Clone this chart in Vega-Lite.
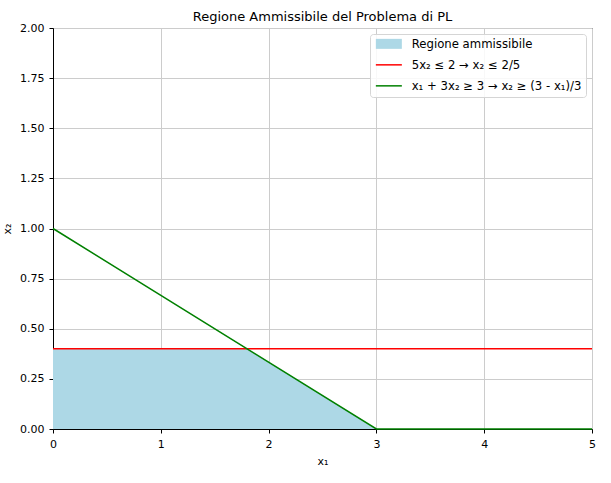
{
  "$schema": "https://vega.github.io/schema/vega-lite/v6.json",
  "width": 539,
  "height": 401,
  "autosize": {"type": "none"},
  "padding": {"left": 53, "top": 28, "right": 19, "bottom": 54},
  "background": "white",
  "title": {"text": "Regione Ammissibile del Problema di PL", "font": "DejaVu Sans", "fontSize": 13, "fontWeight": "normal", "color": "#000", "offset": -2},
  "config": {
    "view": {"stroke": "#000", "strokeWidth": 1},
    "axis": {
      "labelFont": "DejaVu Sans", "labelFontSize": 11, "labelColor": "#000",
      "titleFont": "DejaVu Sans", "titleFontSize": 11, "titleFontWeight": "normal", "titleColor": "#000",
      "domainColor": "#000", "tickColor": "#000", "tickSize": 4,
      "gridColor": "#cccccc", "gridWidth": 1, "zindex": 1
    },
    "legend": {
      "labelFont": "DejaVu Sans", "labelFontSize": 11.7, "labelColor": "#000",
      "labelLimit": 400
    }
  },
  "datasets": {
    "area": [
      {"x": 0, "y": 0.4, "serie": "Regione ammissibile"},
      {"x": 1.8, "y": 0.4, "serie": "Regione ammissibile"},
      {"x": 3, "y": 0, "serie": "Regione ammissibile"}
    ],
    "lines": [
      {"x": 0, "y": 0.4, "serie": "5x₂ ≤ 2 → x₂ ≤ 2/5"},
      {"x": 5, "y": 0.4, "serie": "5x₂ ≤ 2 → x₂ ≤ 2/5"},
      {"x": 0, "y": 1, "serie": "x₁ + 3x₂ ≥ 3 → x₂ ≥ (3 - x₁)/3"},
      {"x": 3, "y": 0, "serie": "x₁ + 3x₂ ≥ 3 → x₂ ≥ (3 - x₁)/3"},
      {"x": 5, "y": 0, "serie": "x₁ + 3x₂ ≥ 3 → x₂ ≥ (3 - x₁)/3"}
    ]
  },
  "encoding": {
    "x": {"field": "x", "type": "quantitative", "scale": {"domain": [0, 5], "nice": false, "zero": false},
      "axis": {"title": "x₁", "values": [0, 1, 2, 3, 4, 5], "format": "d", "labelFlush": false, "labelPadding": 5, "titlePadding": 6}},
    "y": {"field": "y", "type": "quantitative", "scale": {"domain": [0, 2], "nice": false},
      "axis": {"title": "x₂", "values": [0, 0.25, 0.5, 0.75, 1, 1.25, 1.5, 1.75, 2], "format": ".2f", "labelFlush": false, "labelPadding": 5, "titlePadding": 7}},
    "color": {"field": "serie", "type": "nominal",
      "scale": {"domain": ["Regione ammissibile", "5x₂ ≤ 2 → x₂ ≤ 2/5", "x₁ + 3x₂ ≥ 3 → x₂ ≥ (3 - x₁)/3"],
        "range": ["#add8e6", "#ff0000", "#008000"]},
      "legend": {
        "title": null, "orient": "top-right", "offset": 6,
        "padding": 4, "rowPadding": 8, "symbolSize": 100, "symbolOffset": 0,
        "strokeColor": "#d5d5d5", "fillColor": "rgba(255,255,255,0.85)", "cornerRadius": 3,
        "labelOffset": 26,
        "encode": {
          "symbols": {"update": {
            "shape": {"signal": "datum.value === 'Regione ammissibile' ? 'M-0.8,-1H4.4V1H-0.8Z' : 'M-0.8,-0.15H4.4V0.15H-0.8Z'"},
            "fill": {"signal": "scale('color', datum.value)"},
            "stroke": {"value": "transparent"},
            "strokeWidth": {"value": 0},
            "opacity": {"value": 1}
          }}
        }
      }
    }
  },
  "layer": [
    {"data": {"name": "area"}, "mark": {"type": "area", "opacity": 1}},
    {"data": {"name": "lines"}, "mark": {"type": "line", "strokeWidth": 1.5}, "encoding": {"detail": {"field": "serie"}}}
  ]
}
